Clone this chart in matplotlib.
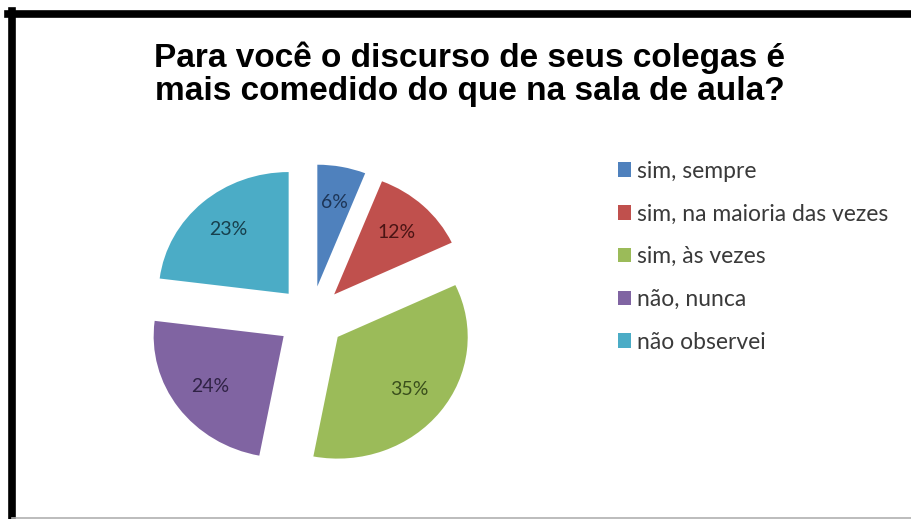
import numpy as np
import matplotlib.pyplot as plt
from matplotlib.lines import Line2D

# Survey answers and their shares
categories = ['sim, sempre', 'sim, na maioria das vezes', 'sim, às vezes',
              'não, nunca', 'não observei']
shares = [6, 12, 35, 24, 23]
colors = ['#4F81BD', '#C0504D', '#9BBB59', '#8064A2', '#4BACC6']
label_colors = ['#1d3557', '#4a1414', '#3a4f1c', '#2f2245', '#173f4c']

fig = plt.figure(figsize=(9.12, 5.19), dpi=100)
W, H = 912, 519

# black frame along top and left edge, thin grey line at the bottom
fig.add_artist(Line2D([8 / W, 1], [1 - 13.5 / H] * 2, color='black', lw=5.5,
                      transform=fig.transFigure))
fig.add_artist(Line2D([12 / W] * 2, [0, 1 - 11 / H], color='black', lw=5.5,
                      transform=fig.transFigure))
fig.add_artist(Line2D([12 / W, 1], [1.5 / H] * 2, color='#b0b0b0', lw=1.2,
                      transform=fig.transFigure))

fig.text(470 / W, 1 - 74 / H,
         'Para você o discurso de seus colegas é\nmais comedido do que na sala de aula?',
         ha='center', va='center', fontsize=24, fontweight='bold',
         family='Liberation Sans', linespacing=1.08)

# pie axes: centre at (311, 317.5) px, 130 px per unit across, 121.7 px per unit down
cx, cy = 311, 317.5
sx, sy = 130.0, 121.7
hw, hh = 180, 170
ax = fig.add_axes([(cx - hw) / W, (H - cy - hh) / H, 2 * hw / W, 2 * hh / H])
wedges, texts, autotexts = ax.pie(
    shares, colors=colors, startangle=90, counterclock=False,
    explode=[0.26] * len(shares), autopct='%1.0f%%', pctdistance=0.7,
    radius=1.0, textprops={'family': 'Lato', 'fontsize': 14})
for t, c in zip(autotexts, label_colors):
    t.set_color(c)
ax.set_xlim(-hw / sx, hw / sx)
ax.set_ylim(-hh / sy, hh / sy)
ax.set_aspect('auto')
ax.axis('off')

fig.legend(wedges, categories, loc='upper left',
           bbox_to_anchor=(597 / W, 1 - 140 / H), frameon=False,
           prop={'family': 'Lato', 'size': 16.5}, handlelength=0.6,
           handleheight=0.6, handletextpad=0.25, labelspacing=0.95,
           labelcolor='#3a3a3a')

fig.savefig('out.png', dpi=100)
